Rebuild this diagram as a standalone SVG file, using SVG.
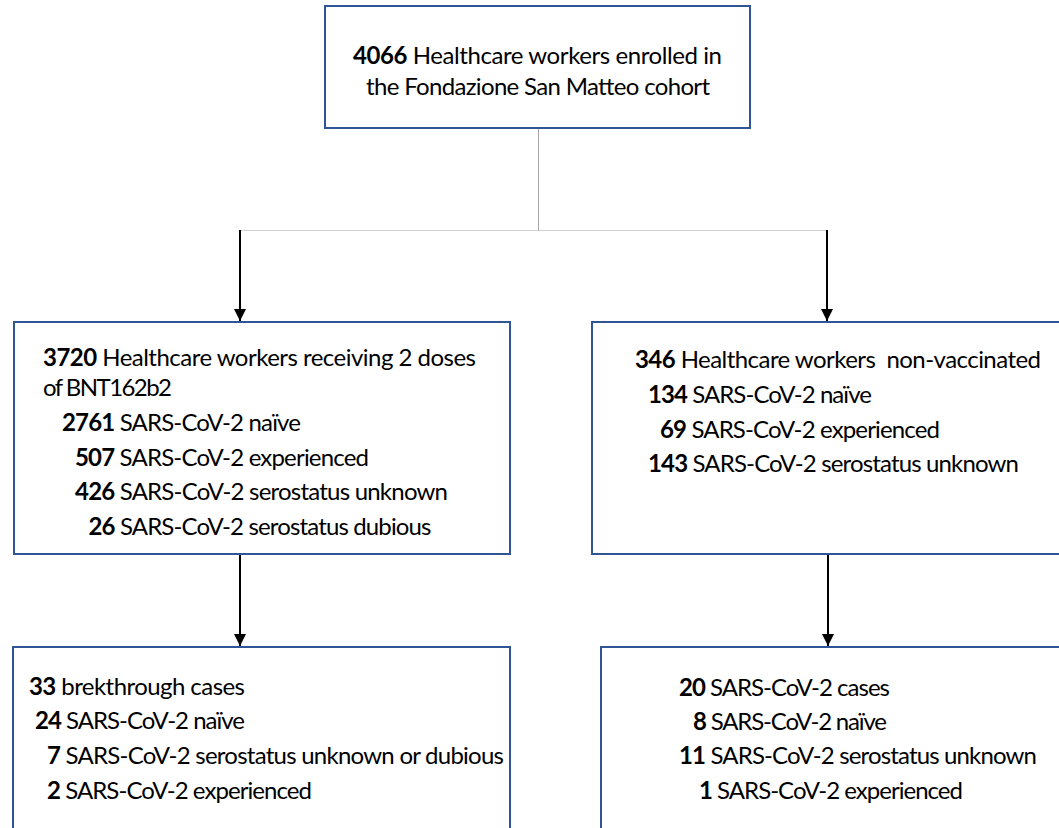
<svg xmlns="http://www.w3.org/2000/svg" width="1059" height="828" viewBox="0 0 1059 828">
  <style>
    .box { fill: #ffffff; stroke: #2f5597; stroke-width: 2; }
    .t { font-family: Lato, "Liberation Sans", sans-serif; font-size: 24px; fill: #000000; }
    .b { font-weight: bold; }
    .arrow { stroke: #000000; stroke-width: 2; fill: none; }
    .thin { stroke: #a6a6a6; stroke-width: 1; fill: none; }
    .thinner { stroke: #d0d0d0; stroke-width: 1.2; fill: none; }
  </style>
  <defs>
    <marker id="ah" markerUnits="userSpaceOnUse" markerWidth="12" markerHeight="12" refX="12" refY="6" orient="auto">
      <path d="M0,0 L12,6 L0,12 z" fill="#000000"/>
    </marker>
  </defs>
  <rect width="1059" height="828" fill="#ffffff"/>

  <g id="connectors">
    <line class="thin" x1="538.5" y1="128" x2="538.5" y2="230"/>
    <line class="thinner" x1="240" y1="230.5" x2="828" y2="230.5"/>
    <line class="arrow" x1="240" y1="230" x2="240" y2="321" marker-end="url(#ah)"/>
    <line class="arrow" x1="827" y1="230" x2="827" y2="321" marker-end="url(#ah)"/>
    <line class="arrow" x1="240" y1="554" x2="240" y2="646" marker-end="url(#ah)"/>
    <line class="arrow" x1="828" y1="554" x2="828" y2="646" marker-end="url(#ah)"/>
  </g>

  <g id="node-enrolled">
    <rect class="box" x="325" y="6" width="425" height="122"/>
    <text class="t" x="353" y="64" textLength="369" lengthAdjust="spacing"><tspan class="b">4066</tspan> Healthcare workers enrolled in</text>
    <text class="t" x="366" y="95" textLength="344" lengthAdjust="spacing">the Fondazione San Matteo cohort</text>
  </g>

  <g id="node-vaccinated">
    <rect class="box" x="14" y="322" width="496" height="232"/>
    <text class="t" x="43" y="366" textLength="433" lengthAdjust="spacing"><tspan class="b">3720</tspan> Healthcare workers receiving 2 doses</text>
    <text class="t" x="43" y="396" textLength="129" lengthAdjust="spacing">of BNT162b2</text>
    <text class="t" x="62" y="431" textLength="239" lengthAdjust="spacing"><tspan class="b">2761</tspan> SARS-CoV-2 naïve</text>
    <text class="t" x="75" y="466" textLength="294" lengthAdjust="spacing"><tspan class="b">507</tspan> SARS-CoV-2 experienced</text>
    <text class="t" x="75" y="500" textLength="373" lengthAdjust="spacing"><tspan class="b">426</tspan> SARS-CoV-2 serostatus unknown</text>
    <text class="t" x="88.5" y="535" textLength="343" lengthAdjust="spacing"><tspan class="b">26</tspan> SARS-CoV-2 serostatus dubious</text>
  </g>

  <g id="node-nonvaccinated">
    <rect class="box" x="592" y="322" width="472" height="232"/>
    <text class="t" x="635" y="368" textLength="406" lengthAdjust="spacing" xml:space="preserve"><tspan class="b">346</tspan> Healthcare workers  non-vaccinated</text>
    <text class="t" x="648" y="403" textLength="224" lengthAdjust="spacing"><tspan class="b">134</tspan> SARS-CoV-2 naïve</text>
    <text class="t" x="660" y="438" textLength="280" lengthAdjust="spacing"><tspan class="b">69</tspan> SARS-CoV-2 experienced</text>
    <text class="t" x="648" y="472" textLength="371" lengthAdjust="spacing"><tspan class="b">143</tspan> SARS-CoV-2 serostatus unknown</text>
  </g>

  <g id="node-breakthrough">
    <rect class="box" x="13" y="647" width="497" height="182"/>
    <text class="t" x="29" y="695" textLength="216" lengthAdjust="spacing"><tspan class="b">33</tspan> brekthrough cases</text>
    <text class="t" x="35" y="729" textLength="210" lengthAdjust="spacing"><tspan class="b">24</tspan> SARS-CoV-2 naïve</text>
    <text class="t" x="47" y="764" textLength="457" lengthAdjust="spacing"><tspan class="b">7</tspan> SARS-CoV-2 serostatus unknown or dubious</text>
    <text class="t" x="47" y="799" textLength="265" lengthAdjust="spacing"><tspan class="b">2</tspan> SARS-CoV-2 experienced</text>
  </g>

  <g id="node-cases">
    <rect class="box" x="601" y="647" width="463" height="182"/>
    <text class="t" x="679" y="696" textLength="211" lengthAdjust="spacing"><tspan class="b">20</tspan> SARS-CoV-2 cases</text>
    <text class="t" x="693" y="730" textLength="194" lengthAdjust="spacing"><tspan class="b">8</tspan> SARS-CoV-2 naïve</text>
    <text class="t" x="679" y="764" textLength="358" lengthAdjust="spacing"><tspan class="b">11</tspan> SARS-CoV-2 serostatus unknown</text>
    <text class="t" x="699" y="799" textLength="264" lengthAdjust="spacing"><tspan class="b">1</tspan> SARS-CoV-2 experienced</text>
  </g>
</svg>
